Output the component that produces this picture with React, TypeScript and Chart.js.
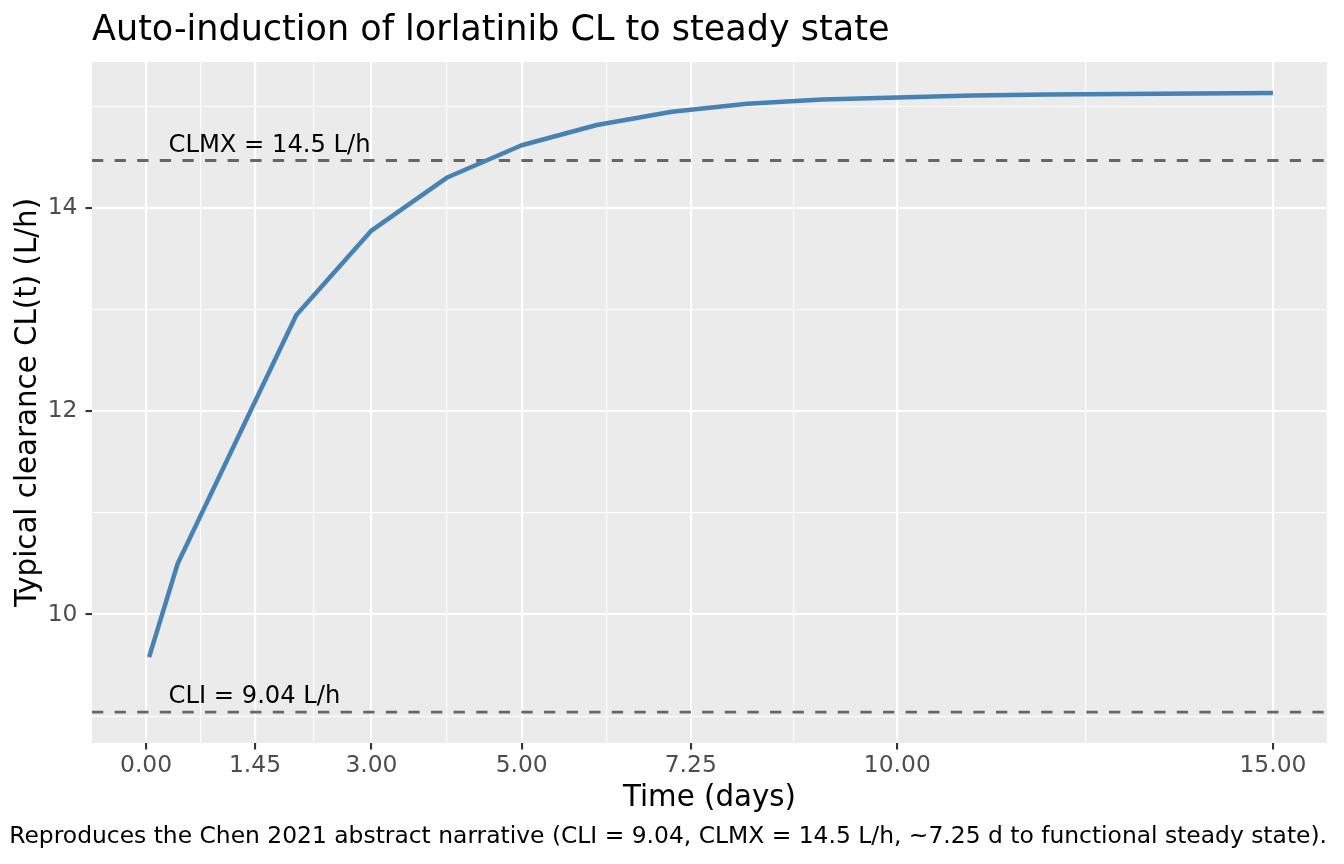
import React, { useEffect, useRef } from 'react';
import { Chart, registerables, Plugin } from 'chart.js';

Chart.register(...registerables);

// Typical clearance curve
const timeDays = [0.04, 0.42, 2, 3, 4, 5, 6, 7, 8, 9, 10, 11, 12, 13, 14, 15];
const clearance = [9.58, 10.5, 12.95, 13.78, 14.3, 14.62, 14.82, 14.95, 15.03, 15.07, 15.09, 15.11, 15.12, 15.125, 15.13, 15.135];

// Reference lines (CLMX drawn at its unrounded value)
const refNames = ['CLMX = 14.5 L/h', 'CLI = 9.04 L/h'];
const refValues = [14.47, 9.04];
const refLabelDay = 0.3;

// Axis breaks
const xMajorTicks = [0, 1.45, 3, 5, 7.25, 10, 15];
const xMinorTicks = [0.725, 2.225, 4, 6.125, 8.625, 12.5];
const yMajorTicks = [10, 12, 14];
const yMinorTicks = [9, 11, 13, 15];

const xLimits = [-0.72, 15.72];
const yLimits = [8.735, 15.44];

const FONT = "'DejaVu Sans', 'Liberation Sans', sans-serif";

const panelPlugin: Plugin<'line'> = {
  id: 'panel',
  beforeDraw(chart) {
    const { ctx, chartArea } = chart;
    ctx.save();
    ctx.fillStyle = '#EBEBEB';
    ctx.fillRect(chartArea.left, chartArea.top, chartArea.width, chartArea.height);
    ctx.restore();
  },
  afterDatasetsDraw(chart) {
    const { ctx } = chart;
    const x = chart.scales.x.getPixelForValue(refLabelDay);
    ctx.save();
    ctx.font = `24.2px ${FONT}`;
    ctx.fillStyle = '#000000';
    ctx.textAlign = 'left';
    ctx.textBaseline = 'alphabetic';
    refValues.forEach((v, i) => {
      const y = chart.scales.y.getPixelForValue(v);
      ctx.fillText(refNames[i], x, y - 8.6);
    });
    ctx.restore();
  }
};

const App: React.FC = () => {
  const chartRef = useRef<HTMLCanvasElement>(null);
  const chartInstance = useRef<Chart | null>(null);

  useEffect(() => {
    document.body.style.margin = '0';
    if (!chartRef.current) return;
    const ctx = chartRef.current.getContext('2d');
    if (!ctx) return;

    const xMajor = new Set(xMajorTicks);
    const yMajor = new Set(yMajorTicks);

    chartInstance.current = new Chart(ctx, {
      type: 'line',
      data: {
        datasets: [
          {
            label: 'CL(t)',
            data: timeDays.map((t, i) => ({ x: t, y: clearance[i] })),
            borderColor: '#4682B4',
            borderWidth: 4.5,
            borderJoinStyle: 'round',
            borderCapStyle: 'butt',
            pointRadius: 0,
            tension: 0,
            fill: false
          },
          ...refValues.map((v, i) => ({
            label: refNames[i],
            data: [{ x: xLimits[0], y: v }, { x: xLimits[1], y: v }],
            borderColor: '#666666',
            borderWidth: 2.8,
            borderDash: [11.3, 11.3],
            pointRadius: 0,
            fill: false
          }))
        ]
      },
      options: {
        responsive: false,
        animation: false,
        events: [],
        layout: { padding: { left: 0, right: 17, top: 0, bottom: 0 } },
        plugins: {
          legend: { display: false },
          tooltip: { enabled: false },
          title: {
            display: true,
            text: 'Auto-induction of lorlatinib CL to steady state',
            align: 'start',
            fullSize: false,
            color: '#000000',
            font: { family: FONT, size: 35, weight: 'normal' },
            padding: { top: 10.3, bottom: 9.7 }
          },
          subtitle: {
            display: true,
            position: 'bottom',
            align: 'end',
            fullSize: true,
            text: 'Reproduces the Chen 2021 abstract narrative (CLI = 9.04, CLMX = 14.5 L/h, ~7.25 d to functional steady state).',
            color: '#000000',
            font: { family: FONT, size: 23.4, weight: 'normal' },
            padding: { top: 2, bottom: 12.6 }
          }
        },
        scales: {
          x: {
            type: 'linear',
            min: xLimits[0],
            max: xLimits[1],
            afterBuildTicks: (scale) => {
              scale.ticks = [...xMajorTicks, ...xMinorTicks].sort((a, b) => a - b).map((v) => ({ value: v }));
            },
            afterFit: (scale) => {
              scale.height = 78.3;
            },
            ticks: {
              autoSkip: false,
              maxRotation: 0,
              padding: 2.2,
              color: '#4D4D4D',
              font: { family: FONT, size: 23.4 },
              callback: (v) => (xMajor.has(Number(v)) ? Number(v).toFixed(2) : '')
            },
            grid: {
              color: '#FFFFFF',
              lineWidth: (c) => (xMajor.has(c.tick?.value) ? 2.1 : 1.1),
              tickLength: 6.5,
              tickWidth: 2.1,
              tickColor: (c) => (xMajor.has(c.tick?.value) ? '#333333' : 'rgba(0,0,0,0)')
            },
            border: { display: false },
            title: {
              display: true,
              text: 'Time (days)',
              color: '#000000',
              font: { family: FONT, size: 29.3 },
              padding: { top: 0, bottom: 5.1 }
            }
          },
          y: {
            type: 'linear',
            min: yLimits[0],
            max: yLimits[1],
            afterBuildTicks: (scale) => {
              scale.ticks = [...yMajorTicks, ...yMinorTicks].sort((a, b) => a - b).map((v) => ({ value: v }));
            },
            afterFit: (scale) => {
              scale.width = 92;
            },
            ticks: {
              autoSkip: false,
              padding: 8,
              color: '#4D4D4D',
              font: { family: FONT, size: 23.4 },
              callback: (v) => (yMajor.has(Number(v)) ? String(v) : '')
            },
            grid: {
              color: '#FFFFFF',
              lineWidth: (c) => (yMajor.has(c.tick?.value) ? 2.1 : 1.1),
              tickLength: 6.5,
              tickWidth: 2.1,
              tickColor: (c) => (yMajor.has(c.tick?.value) ? '#333333' : 'rgba(0,0,0,0)')
            },
            border: { display: false },
            title: {
              display: true,
              text: 'Typical clearance CL(t) (L/h)',
              color: '#000000',
              font: { family: FONT, size: 29.3 },
              padding: { top: 10.4, bottom: 0 }
            }
          }
        }
      },
      plugins: [panelPlugin]
    });

    return () => {
      if (chartInstance.current) {
        chartInstance.current.destroy();
        chartInstance.current = null;
      }
    };
  }, []);

  return (
    <div style={{ width: 1344, height: 864 }}>
      <canvas ref={chartRef} width={1344} height={864} style={{ display: 'block' }}></canvas>
    </div>
  );
};

export default App;
